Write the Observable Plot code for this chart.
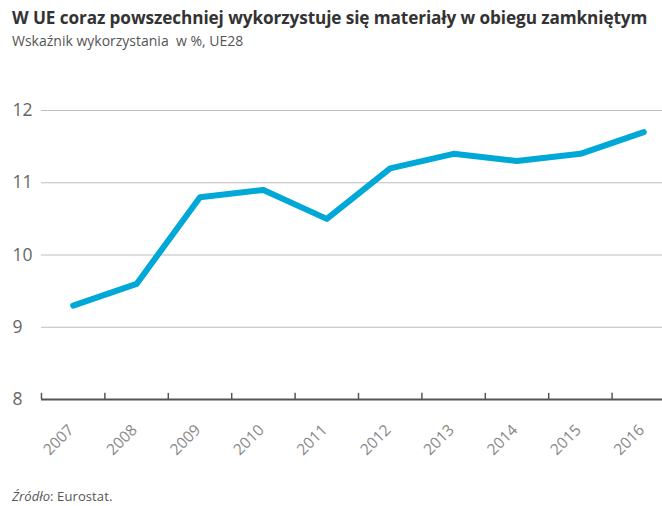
<!DOCTYPE html>
<html>
<head>
<meta charset="utf-8">
<script src="https://cdn.jsdelivr.net/npm/d3@7"></script>
<script src="https://cdn.jsdelivr.net/npm/@observablehq/plot@0.6"></script>
<style>
  html, body { margin: 0; padding: 0; background: #fff; overflow: hidden; }
  body { width: 662px; height: 506px; position: relative; font-family: "Open Sans", sans-serif; }
  #title { position: absolute; left: 12px; top: 6px; font-size: 17.2px; font-weight: bold; color: #333; white-space: nowrap; letter-spacing: -0.1px; }
  #subtitle { position: absolute; left: 12px; top: 31px; font-size: 14px; color: #555; white-space: nowrap; }
  #chart { position: absolute; left: 0; top: 55px; width: 676px; }
  #chart svg { max-width: none !important; }
  #caption { position: absolute; left: 12px; top: 487px; font-size: 13px; color: #555; letter-spacing: 0.1px; }
</style>
</head>
<body>
<div id="title">W UE coraz powszechniej wykorzystuje się materiały w obiegu zamkniętym</div>
<div id="subtitle">Wskaźnik wykorzystania&nbsp; w %, UE28</div>
<div id="chart"></div>
<div id="caption"><i>Źródło</i>: Eurostat.</div>
<script>
const years = [2007, 2008, 2009, 2010, 2011, 2012, 2013, 2014, 2015, 2016];
const values = [9.3, 9.6, 10.8, 10.9, 10.5, 11.2, 11.4, 11.3, 11.4, 11.7];
const yTicks = [8, 9, 10, 11, 12];
const gridTicks = [9, 10, 11, 12];
const boundaries = years.map(y => y - 0.5);

const data = years.map((year, i) => ({year, value: values[i]}));

const chart = Plot.plot({
  width: 676,
  height: 415,
  marginTop: 55,
  marginBottom: 71,
  marginLeft: 41,
  marginRight: 1,
  style: {fontFamily: "Open Sans, sans-serif", background: "transparent", overflow: "visible", maxWidth: "none"},
  x: {type: "linear", domain: [2006.5, 2016.5], label: null},
  y: {domain: [8, 12], label: null},
  marks: [
    Plot.gridY(gridTicks, {stroke: "#bdbdbd", strokeOpacity: 1, strokeWidth: 1.2}),
    Plot.ruleY([8], {stroke: "#555", strokeWidth: 2}),
    Plot.ruleX(boundaries, {x: d => d, y1: 8, y2: 8.085, stroke: "#555", strokeWidth: 1.5}),
    Plot.axisX(years, {tickSize: 0, tickRotate: -45, tickPadding: 28, dx: -2, tickFormat: d => String(d), fontSize: 15.5, fill: "#888", label: null}),
    Plot.axisY(yTicks, {tickSize: 0, tickPadding: 29, textAnchor: "start", tickFormat: d => String(d), fontSize: 17.5, fill: "#666", label: null}),
    Plot.line(data, {x: "year", y: "value", stroke: "#00a8d8", strokeWidth: 6, strokeLinejoin: "round", strokeLinecap: "round"})
  ]
});
document.getElementById("chart").appendChild(chart);
</script>
</body>
</html>
